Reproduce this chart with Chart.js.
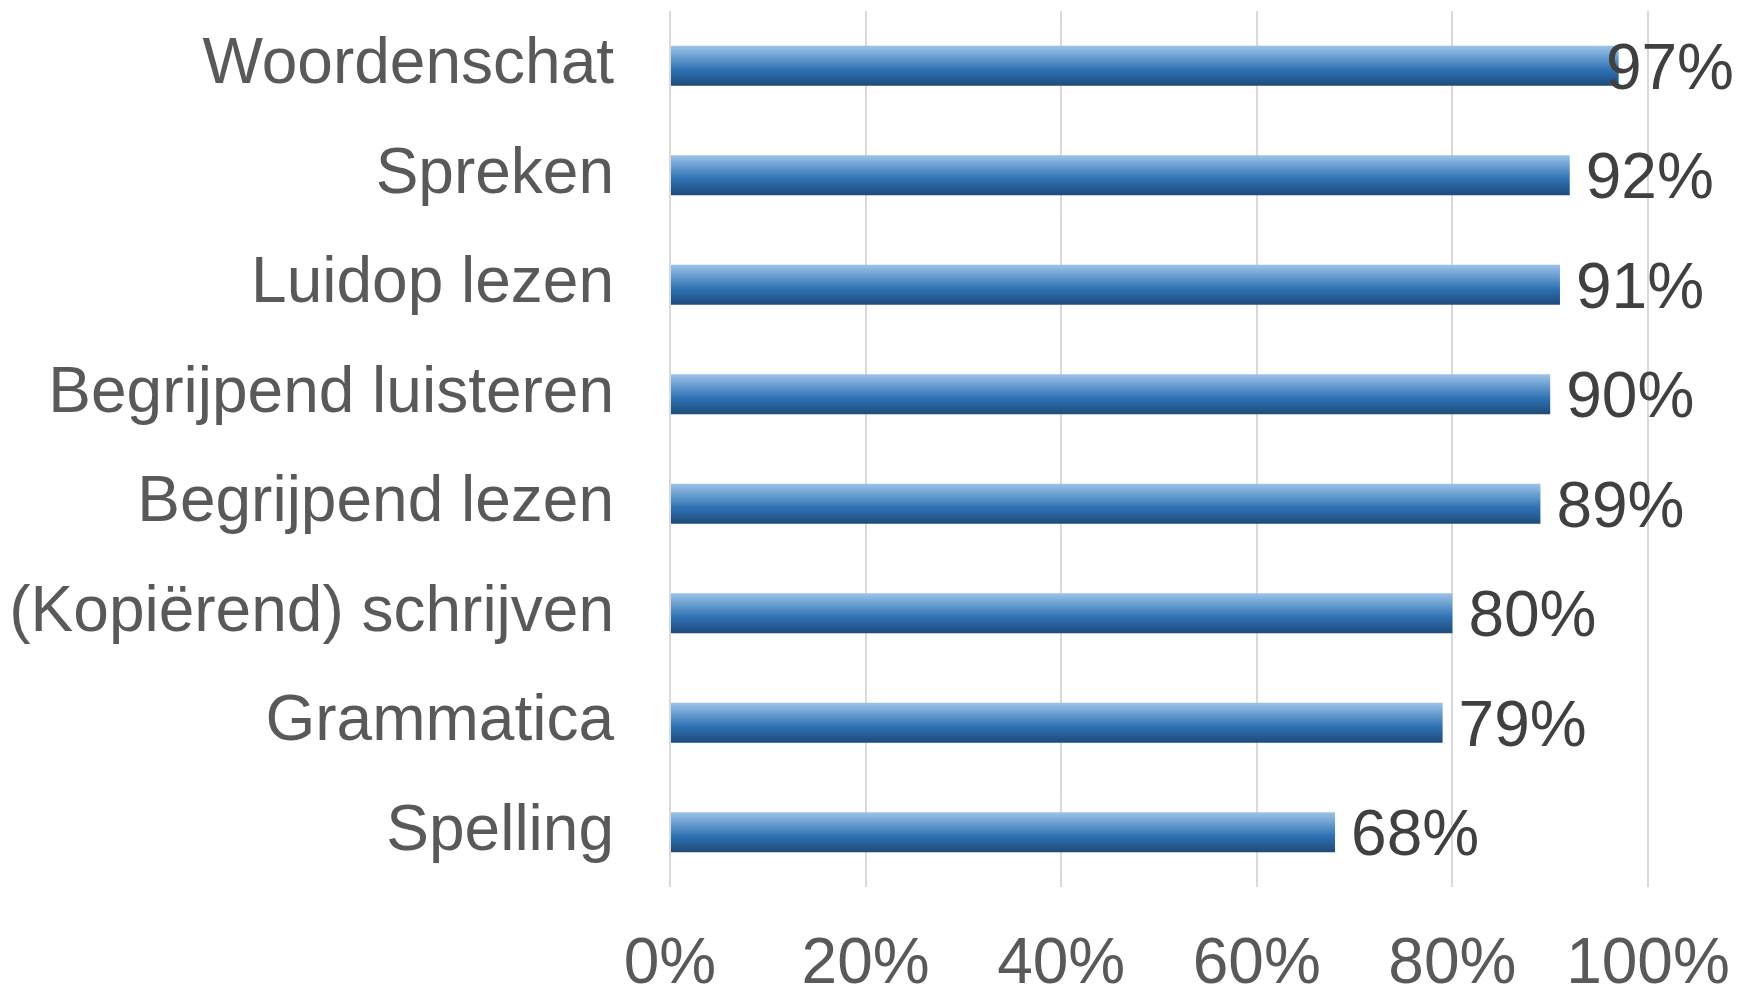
<!DOCTYPE html>
<html>
<head>
<meta charset="utf-8">
<script src="https://cdn.jsdelivr.net/npm/chart.js@4"></script>
<style>
  html, body { margin: 0; padding: 0; background: #fff; }
  canvas { display: block; }
</style>
</head>
<body>
<canvas id="skillsChart" width="1740" height="988"></canvas>
<script>
// categories and values, top to bottom
const categories = ['Woordenschat', 'Spreken', 'Luidop lezen', 'Begrijpend luisteren',
  'Begrijpend lezen', '(Kopiërend) schrijven', 'Grammatica', 'Spelling'];
const scores = [97, 92, 91, 90, 89, 80, 79, 68];
const xTicks = [0, 20, 40, 60, 80, 100];

const FONT = '"Liberation Sans", Arial, sans-serif';

// vertical gradient for each bar, built from the bar's own position
function barGradient(context) {
  const chart = context.chart;
  if (!chart.chartArea || context.dataIndex === undefined) return '#2e75b6';
  const yScale = chart.scales.y;
  const center = yScale.getPixelForValue(context.dataIndex);
  const half = 20;
  const g = chart.ctx.createLinearGradient(0, center - half, 0, center + half);
  g.addColorStop(0, '#9cc3e8');
  g.addColorStop(0.6, '#2e72b4');
  g.addColorStop(1, '#1e4a7a');
  return g;
}

// no automatic padding from the tick labels, the layout is fixed below
function noPadding(scale) {
  scale.paddingTop = 0;
  scale.paddingBottom = 0;
  scale.paddingLeft = 0;
  scale.paddingRight = 0;
}

// value labels at the end of each bar
const valueLabels = {
  id: 'valueLabels',
  afterDatasetsDraw(chart) {
    const ctx = chart.ctx;
    const meta = chart.getDatasetMeta(0);
    ctx.save();
    ctx.font = '64px ' + FONT;
    ctx.fillStyle = '#404040';
    ctx.textBaseline = 'alphabetic';
    meta.data.forEach((bar, i) => {
      const text = scores[i] + '%';
      const w = ctx.measureText(text).width;
      let x = bar.x + 16;
      if (x + w > chart.width - 6) x = chart.width - 6 - w;  // keep inside the canvas
      ctx.fillText(text, x, bar.y + 23);
    });
    ctx.restore();
  }
};

const ctx = document.getElementById('skillsChart').getContext('2d');
const skillsChart = new Chart(ctx, {
  type: 'bar',
  data: {
    labels: categories,
    datasets: [{
      data: scores,
      backgroundColor: barGradient,
      borderWidth: 0,
      barPercentage: 0.366,
      categoryPercentage: 1
    }]
  },
  options: {
    indexAxis: 'y',
    responsive: false,
    animation: false,
    layout: { padding: { top: 11, right: 92, left: 0, bottom: 0 } },
    plugins: {
      legend: { display: false },
      tooltip: { enabled: false }
    },
    scales: {
      x: {
        min: 0,
        max: 100,
        afterBuildTicks: (scale) => { scale.ticks = xTicks.map(v => ({ value: v })); },
        afterFit: (scale) => { scale.height = 101; noPadding(scale); },
        grid: { color: '#d9d9d9', lineWidth: 2, drawTicks: false },
        border: { display: false },
        ticks: {
          padding: 40,
          color: '#595959',
          font: { family: FONT, size: 64 },
          callback: (v) => v + '%',
          maxRotation: 0
        }
      },
      y: {
        afterFit: (scale) => { scale.width = 670; noPadding(scale); },
        grid: { display: false, drawTicks: false },
        border: { display: false },
        ticks: {
          padding: 56,
          color: '#595959',
          font: { family: FONT, size: 64 }
        }
      }
    }
  },
  plugins: [valueLabels]
});
</script>
</body>
</html>
